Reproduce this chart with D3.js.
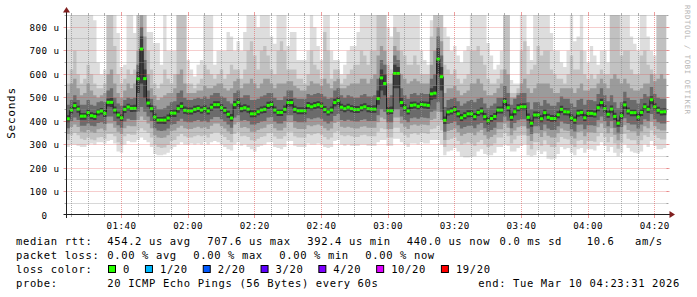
<!DOCTYPE html>
<html>
<head>
<meta charset="utf-8">
<script src="https://cdn.jsdelivr.net/npm/d3@7/dist/d3.min.js"></script>
<style>
  html, body { margin: 0; padding: 0; background: #fff; }
  svg { display: block; }
  text { font-family: "DejaVu Sans Mono", monospace; white-space: pre; }
</style>
</head>
<body>
<div id="wrapper"></div>
<script>
// median rtt per minute (microseconds), 180 steps
const median = [
  410,447,466,451,421,421,436,423,420,439,
  443,433,480,480,447,426,414,450,460,454,
  454,580,707,581,477,453,417,404,404,404,
  413,434,434,453,463,446,443,443,450,454,
  447,453,443,459,470,470,457,446,429,413,
  470,480,453,457,451,431,431,440,447,450,
  467,471,447,437,437,450,479,479,450,444,
  444,444,466,461,466,470,464,449,439,447,
  479,487,459,453,459,453,449,449,457,461,
  453,451,451,496,584,560,444,444,603,603,
  479,457,443,467,469,463,471,469,467,516,
  519,664,589,403,439,443,449,431,414,423,
  431,431,419,437,443,419,401,411,420,447,
  447,484,457,416,440,457,461,461,416,391,
  426,426,410,436,416,411,411,427,450,440,
  439,413,404,434,437,414,433,433,430,457,
  479,453,429,451,420,391,423,469,443,436,
  436,417,437,461,450,491,461,446,439,440
];

// smoke: sorted ping values (1 = fastest, 20 = slowest) per step
const ping20 = [
  790,852,852,852,852,852,852,852,830,650,
  600,620,852,852,852,775,630,640,852,852,
  775,852,852,852,780,780,733,733,640,852,
  700,700,700,852,852,852,660,620,590,640,
  660,852,852,852,640,700,700,700,780,760,
  700,740,700,780,852,852,852,800,852,852,
  852,760,730,852,852,852,720,780,780,660,
  660,660,700,852,800,720,660,852,852,700,
  660,660,600,640,700,720,720,780,852,852,
  852,852,852,852,852,852,800,760,852,852,
  852,852,852,852,852,852,700,660,640,830,
  852,852,852,800,760,700,720,680,650,700,
  720,852,852,852,852,852,733,680,620,640,
  700,852,852,575,560,560,852,852,720,660,
  852,852,852,852,852,775,700,700,650,630,
  700,852,740,760,852,700,650,720,680,640,
  700,700,650,852,852,852,852,852,852,760,
  730,700,852,852,760,700,680,852,852,852
];
const ping19 = [
  560,620,700,600,560,580,640,600,560,540,
  540,560,852,852,720,600,560,580,620,600,
  620,852,852,852,700,620,560,540,560,620,
  580,560,600,852,852,852,560,560,540,560,
  580,640,620,600,580,600,620,580,600,640,
  620,620,580,620,700,740,680,620,700,720,
  680,620,600,700,740,700,620,620,620,580,
  580,560,600,700,640,620,580,780,700,580,
  620,620,560,580,600,620,640,640,700,680,
  640,700,700,852,852,852,640,620,800,780,
  700,680,640,640,680,640,600,600,600,760,
  852,852,852,640,620,600,620,580,560,580,
  600,700,700,720,680,640,580,560,560,580,
  620,852,852,520,520,540,700,740,600,620,
  640,720,680,700,700,620,600,580,580,560,
  600,680,620,620,700,600,580,600,580,600,
  620,600,600,852,852,852,680,700,700,620,
  600,600,680,700,640,620,600,852,852,852
];
const ping17 = [
  520,560,580,540,510,520,560,530,510,500,
  510,520,600,620,560,520,500,530,560,540,
  560,700,852,760,600,540,510,490,500,510,
  520,520,540,600,620,560,520,520,520,530,
  530,550,540,540,550,560,560,540,530,540,
  570,580,540,560,560,580,560,540,560,580,
  580,560,540,560,560,560,570,570,550,540,
  530,530,550,570,560,560,550,580,560,540,
  570,580,540,540,550,560,560,560,580,580,
  560,580,600,680,720,700,560,560,720,700,
  600,580,560,570,580,570,560,560,560,640,
  700,800,740,520,540,540,550,530,510,520,
  530,560,560,580,560,530,510,510,520,540,
  560,620,600,500,500,520,560,580,540,520,
  540,560,560,560,560,540,520,520,540,540,
  540,540,520,540,560,530,530,540,540,560,
  580,560,540,580,600,580,560,580,560,540,
  530,530,540,560,560,600,570,580,600,580
];
const ping15 = [
  470,490,510,490,470,470,490,470,465,480,
  485,480,530,540,500,475,465,490,500,495,
  500,640,800,660,530,495,465,450,450,455,
  465,480,485,520,530,500,490,490,495,500,
  495,505,495,510,520,520,505,500,485,475,
  520,530,500,510,510,490,490,495,505,510,
  520,520,500,490,490,505,530,530,500,495,
  495,495,515,510,515,520,515,505,495,500,
  530,540,510,500,510,505,500,500,510,515,
  505,505,510,580,660,640,500,510,680,660,
  540,510,495,515,520,510,520,515,515,580,
  600,760,680,460,490,495,500,485,465,475,
  485,490,480,495,500,475,455,465,475,500,
  500,550,520,470,495,510,520,520,480,450,
  480,480,465,490,475,465,465,480,505,495,
  495,475,460,490,495,470,490,490,485,515,
  540,510,485,510,480,455,480,525,500,490,
  490,475,495,515,505,545,515,500,495,495
];
const ping12 = [
  425,460,480,465,435,435,450,438,435,452,
  456,448,496,498,462,440,428,465,474,468,
  470,610,760,620,495,468,432,418,418,420,
  428,448,450,470,480,462,458,458,465,468,
  462,468,458,474,485,485,472,460,444,430,
  486,496,468,472,466,446,446,455,462,465,
  482,486,462,452,452,466,494,494,465,459,
  459,459,481,476,481,485,479,464,454,462,
  495,503,474,468,474,468,464,464,472,476,
  468,466,468,530,620,600,460,462,640,630,
  500,472,458,482,484,478,486,484,482,540,
  550,710,630,420,454,458,464,446,430,438,
  446,446,434,452,458,434,416,426,435,462,
  462,500,472,432,455,472,476,476,432,406,
  441,441,425,451,431,426,426,442,465,455,
  454,428,420,450,452,430,448,448,445,472,
  495,468,444,466,436,406,438,485,458,451,
  451,432,452,476,465,506,476,461,454,455
];
const ping09 = [
  395,432,450,436,406,406,421,408,405,424,
  428,418,462,460,432,411,399,434,445,439,
  440,520,560,500,460,438,402,389,389,388,
  398,419,418,436,446,431,428,428,435,439,
  432,438,428,444,455,455,442,431,414,398,
  452,462,438,442,436,416,416,425,432,435,
  452,456,432,422,422,435,462,462,435,429,
  429,429,451,446,451,455,449,434,424,432,
  462,470,444,438,444,438,434,434,442,446,
  438,436,436,470,530,510,428,430,540,540,
  460,442,428,452,454,448,456,454,452,490,
  495,600,530,388,424,428,434,416,399,408,
  416,416,404,422,428,404,386,396,405,432,
  432,465,442,401,425,442,446,446,401,376,
  411,411,395,421,401,396,396,412,435,425,
  424,398,389,419,422,399,418,418,415,442,
  462,438,414,436,405,376,408,452,428,421,
  421,402,422,446,435,472,446,431,424,425
];
const ping06 = [
  370,400,415,405,380,380,390,380,378,392,
  395,388,420,420,400,382,372,398,410,405,
  405,440,460,440,420,400,370,360,358,360,
  368,385,388,400,410,398,395,395,400,405,
  398,402,395,408,418,418,408,398,385,372,
  415,425,402,405,400,385,385,392,398,400,
  415,418,398,390,390,400,425,425,400,395,
  395,395,412,408,412,415,410,398,390,398,
  422,430,405,400,406,402,398,398,405,408,
  400,400,400,425,450,440,395,395,450,450,
  420,405,395,412,415,410,416,414,412,440,
  445,480,440,355,388,392,398,382,368,375,
  380,380,370,385,392,370,355,362,372,395,
  395,420,402,370,392,404,408,408,368,345,
  378,378,362,386,368,362,362,378,398,390,
  388,365,356,384,386,365,382,382,380,404,
  420,400,378,400,372,348,375,412,392,386,
  386,368,386,408,400,430,408,395,390,390
];
const ping04 = [
  345,375,385,375,355,352,362,355,350,365,
  368,360,390,390,372,355,345,370,380,378,
  378,405,420,405,390,370,340,330,328,330,
  340,358,360,372,380,370,366,366,372,376,
  370,374,366,380,390,390,378,368,356,345,
  385,395,372,375,370,355,355,362,368,372,
  385,388,370,360,360,372,395,395,372,366,
  366,366,382,378,382,385,380,370,360,368,
  392,398,376,372,376,372,368,368,376,378,
  372,372,372,395,415,408,366,366,415,415,
  390,376,366,382,385,380,386,384,382,405,
  410,440,405,320,358,362,368,352,338,345,
  350,350,340,355,362,340,325,332,342,365,
  365,390,372,340,360,374,378,378,338,315,
  348,348,332,356,338,330,330,348,368,360,
  358,335,326,354,356,335,352,352,350,374,
  390,370,348,370,342,318,345,382,362,356,
  356,338,356,378,370,398,378,365,360,360
];
const ping02 = [
  320,340,350,340,325,320,330,322,318,330,
  332,325,345,345,335,310,300,335,345,342,
  342,360,370,360,350,330,300,290,285,288,
  298,315,320,335,345,335,330,330,335,340,
  335,340,330,345,352,352,342,332,320,310,
  345,355,336,338,332,318,315,325,332,336,
  348,350,334,325,325,336,355,355,336,330,
  330,330,345,340,345,348,342,332,322,330,
  352,358,340,336,340,336,332,332,340,342,
  336,336,336,355,370,365,330,330,372,372,
  352,340,330,345,348,342,350,348,345,365,
  368,380,360,290,320,325,330,315,300,305,
  310,305,295,310,320,300,290,295,305,330,
  330,350,335,305,322,338,340,340,300,280,
  310,310,295,318,300,290,290,310,332,325,
  322,300,290,316,320,300,315,315,312,335,
  350,332,310,332,305,282,308,345,325,318,
  318,300,318,340,332,360,340,328,322,322
];
const ping01 = [
  290,300,300,295,290,290,300,305,300,310,
  310,305,315,320,305,270,265,300,315,310,
  310,320,330,320,310,290,260,255,255,258,
  265,280,290,300,310,300,300,305,300,305,
  300,310,300,310,315,310,300,290,280,275,
  300,310,295,300,290,280,270,290,295,300,
  310,310,290,285,280,290,315,315,295,290,
  290,290,305,300,300,305,300,290,285,290,
  315,320,300,295,300,295,295,295,300,300,
  295,295,295,310,320,320,295,295,325,325,
  310,300,290,305,305,300,310,305,305,320,
  320,320,300,255,270,275,285,270,250,245,
  245,248,250,270,280,260,255,255,265,290,
  290,300,295,270,270,285,295,300,255,250,
  255,275,260,270,240,236,240,260,290,280,
  285,265,255,280,285,265,280,280,275,295,
  310,295,270,290,265,250,265,300,285,270,
  265,262,270,300,290,315,295,280,280,285
];

const yTicks = [0, 100, 200, 300, 400, 500, 600, 700, 800];
const lossLabels = ["0", "1/20", "2/20", "3/20", "4/20", "10/20", "19/20"];
const lossColors = ["#26ff00", "#00b8ff", "#0059ff", "#5e00ff", "#7e00ff", "#dd00ff", "#ff0000"];
const rttItems = ["median rtt:", "454.2 us avg", "707.6 us max", "392.4 us min", "440.0 us now", "0.0 ms sd", "10.6", "am/s"];
const lossItems = ["packet loss:", "0.00 % avg", "0.00 % max", "0.00 % min", "0.00 % now"];
const probeItems = ["probe:", "20 ICMP Echo Pings (56 Bytes) every 60s", "end: Tue Mar 10 04:23:31 2026"];

const endTime = new Date(Date.UTC(2026, 2, 10, 4, 23, 31));
const startTime = new Date(endTime.getTime() - median.length * 60000);
const times = d3.range(median.length + 1).map(i => new Date(startTime.getTime() + i * 60000));

const width = 697, height = 297;
const plot = { left: 66.5, right: 666.5, top: 15, bottom: 215 };

const svg = d3.select('#wrapper').append('svg')
  .attr('width', width).attr('height', height);
svg.append('rect').attr('width', width).attr('height', height).attr('fill', '#fff');

const xScale = d3.scaleUtc().domain([startTime, endTime]).range([plot.left, plot.right]);
const yScale = d3.scaleLinear().domain([0, 852]).range([plot.bottom, plot.top]);

svg.append('clipPath').attr('id', 'clip')
  .append('rect')
  .attr('x', plot.left).attr('y', plot.top)
  .attr('width', plot.right - plot.left).attr('height', plot.bottom - plot.top);

const graph = svg.append('g').attr('clip-path', 'url(#clip)');

// smoke bands, outermost first; each colour is the mean shade of the
// smokeping pairs that fall inside that band
const bands = [
  { lo: ping01, hi: ping20, color: '#dddddd' },
  { lo: ping02, hi: ping19, color: '#c1c1c1' },
  { lo: ping04, hi: ping17, color: '#9b9b9b' },
  { lo: ping06, hi: ping15, color: '#6b6b6b' },
  { lo: ping09, hi: ping12, color: '#3c3c3c' }
];
const area = d3.area()
  .curve(d3.curveStepAfter)
  .x((d, i) => xScale(times[i]))
  .y0(d => yScale(d[0]))
  .y1(d => yScale(d[1]));
bands.forEach(b => {
  const pts = b.lo.map((v, i) => [v, b.hi[i]]);
  pts.push(pts[pts.length - 1]);
  graph.append('path').datum(pts).attr('d', area).attr('fill', b.color);
});

// median line and loss colour marks
const medPts = median.concat([median[median.length - 1]]);
graph.append('path')
  .datum(medPts)
  .attr('d', d3.line().curve(d3.curveStepAfter).x((d, i) => xScale(times[i])).y(d => yScale(d)))
  .attr('fill', 'none')
  .attr('stroke', '#202020')
  .attr('stroke-width', 1);
graph.selectAll('rect.med')
  .data(median)
  .join('rect')
  .attr('class', 'med')
  .attr('x', (d, i) => xScale(times[i]))
  .attr('width', (d, i) => xScale(times[i + 1]) - xScale(times[i]))
  .attr('y', d => yScale(d) - 1.5)
  .attr('height', 3)
  .attr('fill', lossColors[0]);

// grid on top of the graph, rrdtool style
const gridColor = 'rgba(143,143,143,0.7)';
const mgridColor = 'rgba(222,79,79,0.55)';
const grid = svg.append('g');
const snap = v => Math.round(v - 0.5) + 0.5;

d3.range(50, 852, 50).forEach(v => {
  const y = snap(yScale(v));
  const major = v % 100 === 0;
  const c = major ? mgridColor : gridColor;
  grid.append('line').attr('x1', plot.left).attr('x2', plot.right + 1).attr('y1', y).attr('y2', y)
    .attr('stroke', c).attr('stroke-dasharray', '1,1');
  grid.append('line').attr('x1', plot.left - (major ? 3 : 2)).attr('x2', plot.left).attr('y1', y).attr('y2', y).attr('stroke', c);
  grid.append('line').attr('x1', plot.right).attr('x2', plot.right + (major ? 3 : 2)).attr('y1', y).attr('y2', y).attr('stroke', c);
});

const minuteTicks = d3.utcMinute.every(5).range(startTime, endTime);
minuteTicks.forEach(t => {
  const x = snap(xScale(t));
  const major = t.getUTCMinutes() % 20 === 0;
  const c = major ? mgridColor : gridColor;
  grid.append('line').attr('x1', x).attr('x2', x).attr('y1', plot.top).attr('y2', plot.bottom)
    .attr('stroke', c).attr('stroke-dasharray', '1,1');
  grid.append('line').attr('x1', x).attr('x2', x).attr('y1', plot.bottom).attr('y2', plot.bottom + (major ? 3 : 2)).attr('stroke', c);
  grid.append('line').attr('x1', x).attr('x2', x).attr('y1', plot.top - (major ? 3 : 2)).attr('y2', plot.top).attr('stroke', c);
});

// axes
const axisColor = '#1f1f1f';
const arrowColor = '#801f1f';
svg.append('line').attr('x1', plot.left - 3).attr('x2', 672).attr('y1', 214.5).attr('y2', 214.5).attr('stroke', axisColor);
svg.append('line').attr('x1', plot.left).attr('x2', plot.left).attr('y1', 218).attr('y2', 10).attr('stroke', axisColor);
svg.append('path').attr('d', 'M675,214.5 L669.5,211 L669.5,218 Z').attr('fill', arrowColor);
svg.append('path').attr('d', 'M66.5,7 L63,12.5 L70,12.5 Z').attr('fill', arrowColor);

// y labels
svg.selectAll('text.ylab')
  .data(yTicks)
  .join('text')
  .attr('class', 'ylab')
  .attr('x', 59.5)
  .attr('y', d => yScale(d) + 3.5)
  .attr('text-anchor', 'end')
  .style('font-size', '9.2px')
  .style('letter-spacing', '0.46px')
  .text(d => d === 0 ? '0  ' : d + ' u');

// x labels
svg.selectAll('text.xlab')
  .data(minuteTicks.filter(t => t.getUTCMinutes() % 20 === 0))
  .join('text')
  .attr('class', 'xlab')
  .attr('x', d => xScale(d))
  .attr('y', 228.5)
  .attr('text-anchor', 'middle')
  .style('font-size', '9.2px')
  .style('letter-spacing', '0.46px')
  .text(d3.utcFormat('%H:%M'));

// vertical title and watermark
svg.append('text')
  .attr('transform', 'translate(15,113) rotate(-90)')
  .attr('text-anchor', 'middle')
  .style('font-size', '11px')
  .style('letter-spacing', '0.75px')
  .text('Seconds');
svg.append('text')
  .attr('transform', 'translate(685,5) rotate(90)')
  .attr('fill', '#b4b4b4')
  .style('font-size', '7.2px')
  .style('letter-spacing', '0.66px')
  .text('RRDTOOL / TOBI OETIKER');

// legend
const legend = svg.append('g').style('font-size', '10.5px').style('letter-spacing', '0.63px');
const rttX = [16, 107.3, 207.3, 307.3, 406.7, 499.5, 586.7, 635];
const lossX = [16, 107.3, 193.3, 279.3, 365.3];
const probeX = [16, 107.3, 478.3];
rttItems.forEach((s, i) => legend.append('text').attr('x', rttX[i]).attr('y', 244.5).text(s));
lossItems.forEach((s, i) => legend.append('text').attr('x', lossX[i]).attr('y', 258.5).text(s));
probeItems.forEach((s, i) => legend.append('text').attr('x', probeX[i]).attr('y', 286.5).text(s));
legend.append('text').attr('x', 16).attr('y', 272.5).text('loss color:');
let boxX = 108.5;
lossLabels.forEach((s, i) => {
  legend.append('rect')
    .attr('x', boxX).attr('y', 265.5).attr('width', 7).attr('height', 7)
    .attr('fill', lossColors[i]).attr('stroke', '#000').attr('stroke-width', 1);
  legend.append('text').attr('x', boxX + 14.5).attr('y', 272.5).text(s);
  boxX = boxX + 14.5 + s.length * 6.95 + 15.5;
});
</script>
</body>
</html>
